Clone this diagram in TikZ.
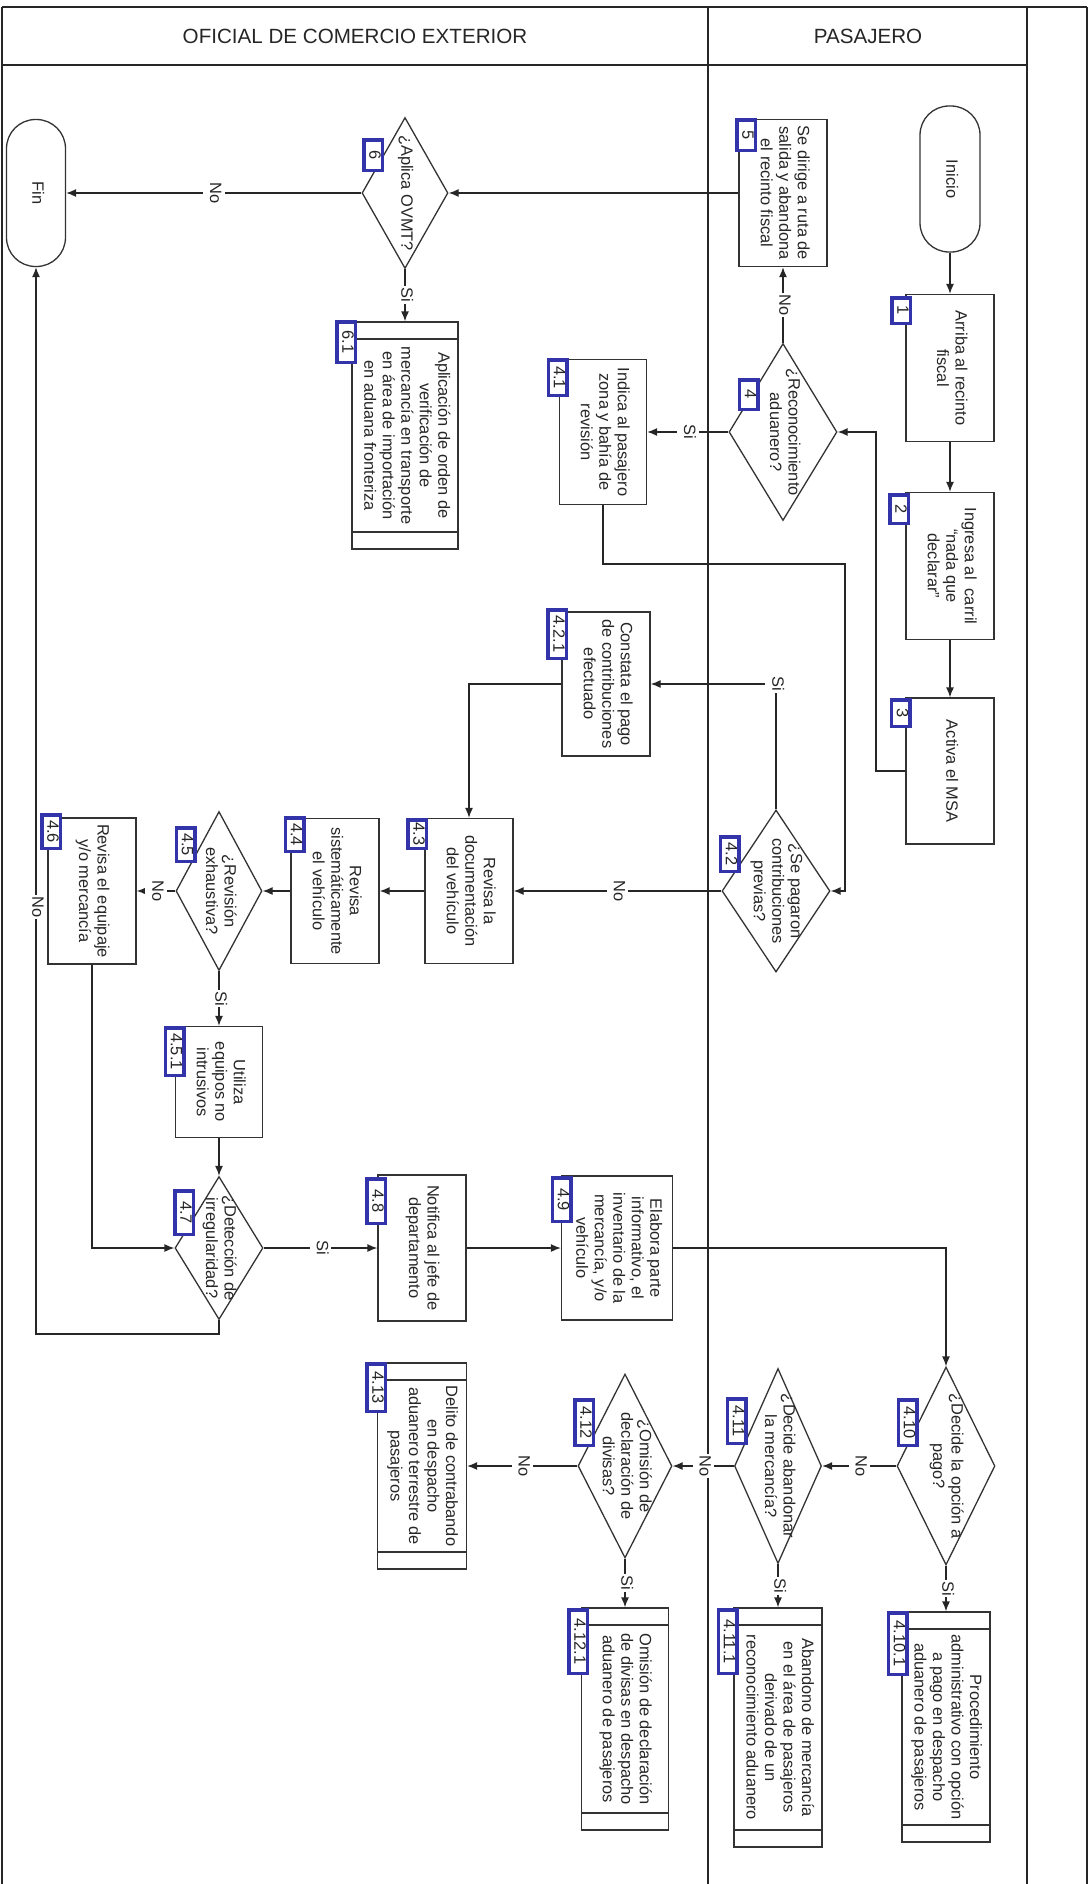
\documentclass[tikz,border=0pt]{standalone}
\usepackage{fontspec}
\setmainfont{Liberation Sans}
\usepackage{graphicx}
\usetikzlibrary{shapes.geometric,arrows.meta}
\definecolor{tagblue}{RGB}{52,52,170}
\newcommand{\vtext}[1]{\rotatebox{-90}{\begin{tabular}{@{}c@{}}#1\end{tabular}}}
\newcommand{\nodefont}{\fontsize{16.4pt}{18.5pt}\selectfont}
\newcommand{\headfont}{\fontsize{20.6pt}{24pt}\selectfont}
\tikzset{
	box/.style={draw=black!80, line width=1.3pt, fill=white,
		inner sep=1pt, font=\nodefont, text=black!85},
	sub/.style={box, path picture={
		\draw [line width=1.3pt, black!80]
			([yshift=-17pt]path picture bounding box.north west) --
			([yshift=-17pt]path picture bounding box.north east)
			([yshift=17pt]path picture bounding box.south west) --
			([yshift=17pt]path picture bounding box.south east);}},
	term/.style={box, rounded corners=29pt},
	dec/.style={diamond, draw=black!80, line width=1.3pt, fill=white,
		inner sep=0pt},
	txt/.style={font=\nodefont, text=black!85, inner sep=0pt},
	numtag/.style={draw=tagblue, line width=3.5pt, fill=white,
		inner sep=0pt, minimum width=18.5pt, font=\nodefont, text=black!85},
	lbl/.style={fill=white, inner sep=1.5pt, font=\nodefont, text=black!85},
	lane/.style={draw=black!85, line width=1.6pt},
	flow/.style={draw=black!85, line width=1.3pt,
		-{Latex[length=10pt,width=8pt]}}
}
\begin{document}
\begin{tikzpicture}[x=1pt, y=-1pt]
	\useasboundingbox (0,0) rectangle (1089,1884);
	% lanes
	\draw [lane] (2,7) -- (1087,7);
	\draw [lane] (2,65) -- (1027,65);
	\draw [lane] (2,7) -- (2,1884);
	\draw [lane] (708,7) -- (708,1884);
	\draw [lane] (1027,7) -- (1027,1884);
	\draw [lane] (1087,7) -- (1087,1884);
	\node (hofi) [txt, font=\headfont] at (355,36) 
		{OFICIAL DE COMERCIO EXTERIOR};
	\node (hpas) [txt, font=\headfont] at (868,36) 
		{PASAJERO};
	% pasajero
	\node (ini) [term, minimum width=60pt, minimum height=146pt] at (950,179)
		{\vtext{Inicio}};
	\node (b1) [box, minimum width=88pt, minimum height=147pt] at (950,368)
		{\vtext{Arriba al recinto\\fiscal}};
	\node (b2) [box, minimum width=88pt, minimum height=147pt] at (950,566)
		{\vtext{Ingresa al\ \ carril\\“nada que\\declarar”}};
	\node (b3) [box, minimum width=88pt, minimum height=146pt] at (950,771)
		{\vtext{Activa el MSA}};
	\node (d4) [dec, minimum width=108pt, minimum height=177pt] at (783,432) {};
	\node (d4x) [txt] at (d4) 
		{\vtext{¿Reconocimiento\\aduanero?}};
	\node (b5) [box, minimum width=88pt, minimum height=147pt] at (783,193)
		{\vtext{Se dirige a ruta de\\salida y abandona\\el recinto fiscal}};
	\node (d42) [dec, minimum width=108pt, minimum height=162pt] at (776,891) {};
	\node (d42x) [txt] at (d42) 
		{\vtext{¿Se pagaron\\contribuciones\\previas?}};
	\node (d410) [dec, minimum width=98pt, minimum height=198pt] at (946,1466) {};
	\node (d410x) [txt] at (d410) 
		{\vtext{¿Decide la opción a\\pago?}};
	\node (b4101) [sub, minimum width=88pt, minimum height=230pt] at (946,1727)
		{\vtext{Procedimiento\\administrativo con opción\\a pago en despacho\\aduanero de pasajeros}};
	\node (d411) [dec, minimum width=87pt, minimum height=195pt] at (778,1466) {};
	\node (d411x) [txt] at (d411) 
		{\vtext{¿Decide abandonar\\la mercancía?}};
	\node (b4111) [sub, minimum width=88pt, minimum height=239pt] at (778,1727.5)
		{\vtext{Abandono de mercancía\\en el área de pasajeros\\derivado de un\\reconocimiento aduanero}};
	% oficial de comercio exterior
	\node (d6) [dec, minimum width=86pt, minimum height=151pt] at (405,193) {};
	\node (d6x) [txt] at (d6) 
		{\vtext{¿Aplica OVMT?}};
	\node (fin) [term, minimum width=59pt, minimum height=147pt] at (36,193)
		{\vtext{Fin}};
	\node (b61) [sub, minimum width=106pt, minimum height=227pt] at (405,435.5)
		{\vtext{Aplicación de orden de\\verificación de\\mercancía en transporte\\en área de importación\\en aduana fronteriza}};
	\node (b41) [box, minimum width=87pt, minimum height=145pt] at (603,432)
		{\vtext{Indica al pasajero\\zona y bahía de\\revisión}};
	\node (b421) [box, minimum width=88pt, minimum height=144pt] at (606,684)
		{\vtext{Constata el pago\\de contribuciones\\efectuado}};
	\node (b43) [box, minimum width=88pt, minimum height=145pt] at (469,891)
		{\vtext{Revisa la\\documentación\\del vehículo}};
	\node (b44) [box, minimum width=88pt, minimum height=145pt] at (335,891)
		{\vtext{Revisa\\sistemáticamente\\el vehículo}};
	\node (d45) [dec, minimum width=86pt, minimum height=159pt] at (219,891) {};
	\node (d45x) [txt] at (d45) 
		{\vtext{¿Revisión\\exhaustiva?}};
	\node (b46) [box, minimum width=88pt, minimum height=146pt] at (92,891)
		{\vtext{Revisa el equipaje\\y/o mercancía}};
	\node (b451) [box, minimum width=87pt, minimum height=111pt] at (219,1082)
		{\vtext{Utiliza\\equipos no\\intrusivos}};
	\node (d47) [dec, minimum width=88pt, minimum height=143pt] at (219,1248) {};
	\node (d47x) [txt] at (d47) 
		{\vtext{¿Detección de\\irregularidad?}};
	\node (b48) [box, minimum width=88pt, minimum height=146pt] at (422,1248)
		{\vtext{Notifica al jefe de\\departamento}};
	\node (b49) [box, minimum width=111pt, minimum height=144pt] at (617,1248)
		{\vtext{Elabora parte\\informativo, el\\inventario de la\\mercancía, y/o\\vehículo}};
	\node (d412) [dec, minimum width=94pt, minimum height=184pt] at (625,1466) {};
	\node (d412x) [txt] at (d412) 
		{\vtext{¿Omisión de\\declaración de\\divisas?}};
	\node (b4121) [sub, minimum width=87pt, minimum height=222pt] at (625,1719)
		{\vtext{Omisión de declaración\\de divisas en despacho\\aduanero de pasajeros}};
	\node (b413) [sub, minimum width=89pt, minimum height=206pt] at (422,1466)
		{\vtext{Delito de contrabando\\en despacho\\aduanero terrestre de\\pasajeros}};
	% connectors
	\coordinate (k3) at (876,771);
	\coordinate (k41) at (845,564);
	\coordinate (k47) at (219,1334);
	\draw [flow] (ini) -- (b1);
	\draw [flow] (b1) -- (b2);
	\draw [flow] (b2) -- (b3);
	\draw [flow] (b3.west) -- (k3) |- (d4.east);
	\draw [flow] (d4.north) -- 
		node [lbl] {\vtext{No}} 
		(b5.south);
	\draw [flow] (d4.west) -- 
		node [lbl] {\vtext{Si}} 
		(b41.east);
	\draw [flow] (b5) -- (d6);
	\draw [flow] (d6.west) -- 
		node [lbl] {\vtext{No}} 
		(fin.east);
	\draw [flow] (d6.south) -- 
		node [lbl] {\vtext{Si}} 
		(b61.north);
	\draw [flow] (b41.south) |- (k41) |- (d42.east);
	\draw [flow] (d42.north) |- 
		node [lbl] {\vtext{Si}} 
		(b421.east);
	\draw [flow] (d42.west) -- 
		node [lbl] {\vtext{No}} 
		(b43.east);
	\draw [flow] (b421.west) -| (b43.north);
	\draw [flow] (b43) -- (b44);
	\draw [flow] (b44) -- (d45);
	\draw [flow] (d45.west) -- 
		node [lbl] {\vtext{No}} 
		(b46.east);
	\draw [flow] (d45.south) -- 
		node [lbl] {\vtext{Si}} 
		(b451.north);
	\draw [flow] (b451) -- (d47);
	\draw [flow] (b46.south) |- (d47.west);
	\draw [flow] (d47.south) -- (k47) -| 
		node [lbl, pos=0.7] {\vtext{No}} 
		(fin.south);
	\draw [flow] (d47.east) -- 
		node [lbl] {\vtext{Si}} 
		(b48.west);
	\draw [flow] (b48) -- (b49);
	\draw [flow] (b49.east) -| (d410.north);
	\draw [flow] (d410.west) -- 
		node [lbl] {\vtext{No}} 
		(d411.east);
	\draw [flow] (d410.south) -- 
		node [lbl] {\vtext{Si}} 
		(b4101.north);
	\draw [flow] (d411.west) -- 
		node [lbl] {\vtext{No}} 
		(d412.east);
	\draw [flow] (d411.south) -- 
		node [lbl] {\vtext{Si}} 
		(b4111.north);
	\draw [flow] (d412.west) -- 
		node [lbl] {\vtext{No}} 
		(b413.east);
	\draw [flow] (d412.south) -- 
		node [lbl] {\vtext{Si}} 
		(b4121.north);
	% step numbers
	\node (t1) [numtag, minimum height=25.5pt] at (901,310.5) {\vtext{1}};
	\node (t2) [numtag, minimum height=28.5pt] at (899,509) {\vtext{2}};
	\node (t3) [numtag, minimum height=26.5pt] at (900.5,713) {\vtext{3}};
	\node (t4) [numtag, minimum height=29.5pt] at (748.5,394.5) {\vtext{4}};
	\node (t5) [numtag, minimum height=30.5pt] at (746,135) {\vtext{5}};
	\node (t6) [numtag, minimum height=30.5pt] at (373,155) {\vtext{6}};
	\node (t61) [numtag, minimum height=40.5pt] at (346,342) {\vtext{6.1}};
	\node (t41) [numtag, minimum height=35.5pt] at (557.5,377.5) {\vtext{4.1}};
	\node (t42) [numtag, minimum height=34.5pt] at (729.5,854) {\vtext{4.2}};
	\node (t421) [numtag, minimum height=48.5pt] at (557,634) {\vtext{4.2.1}};
	\node (t43) [numtag, minimum height=28.5pt] at (417,834) {\vtext{4.3}};
	\node (t44) [numtag, minimum height=33.5pt] at (294.5,834.5) {\vtext{4.4}};
	\node (t45) [numtag, minimum height=33.5pt] at (185.5,844.5) {\vtext{4.5}};
	\node (t46) [numtag, minimum height=33.5pt] at (51,831.5) {\vtext{4.6}};
	\node (t451) [numtag, minimum height=47.5pt] at (174.5,1051.5) {\vtext{4.5.1}};
	\node (t47) [numtag, minimum height=43.5pt] at (184,1212.5) {\vtext{4.7}};
	\node (t48) [numtag, minimum height=44.5pt] at (376,1201) {\vtext{4.8}};
	\node (t49) [numtag, minimum height=43.5pt] at (561.5,1199.5) {\vtext{4.9}};
	\node (t410) [numtag, minimum height=45.5pt] at (907.5,1422.5) {\vtext{4.10}};
	\node (t4101) [numtag, minimum height=61.5pt] at (897.5,1643.5) {\vtext{4.10.1}};
	\node (t411) [numtag, minimum height=44.5pt] at (736.5,1421) {\vtext{4.11}};
	\node (t4111) [numtag, minimum height=63.5pt] at (727.5,1641.5) {\vtext{4.11.1}};
	\node (t412) [numtag, minimum height=45.5pt] at (584,1422.5) {\vtext{4.12}};
	\node (t4121) [numtag, minimum height=63.5pt] at (578,1641.5) {\vtext{4.12.1}};
	\node (t413) [numtag, minimum height=47.5pt] at (376,1387.5) {\vtext{4.13}};
\end{tikzpicture}
\end{document}
